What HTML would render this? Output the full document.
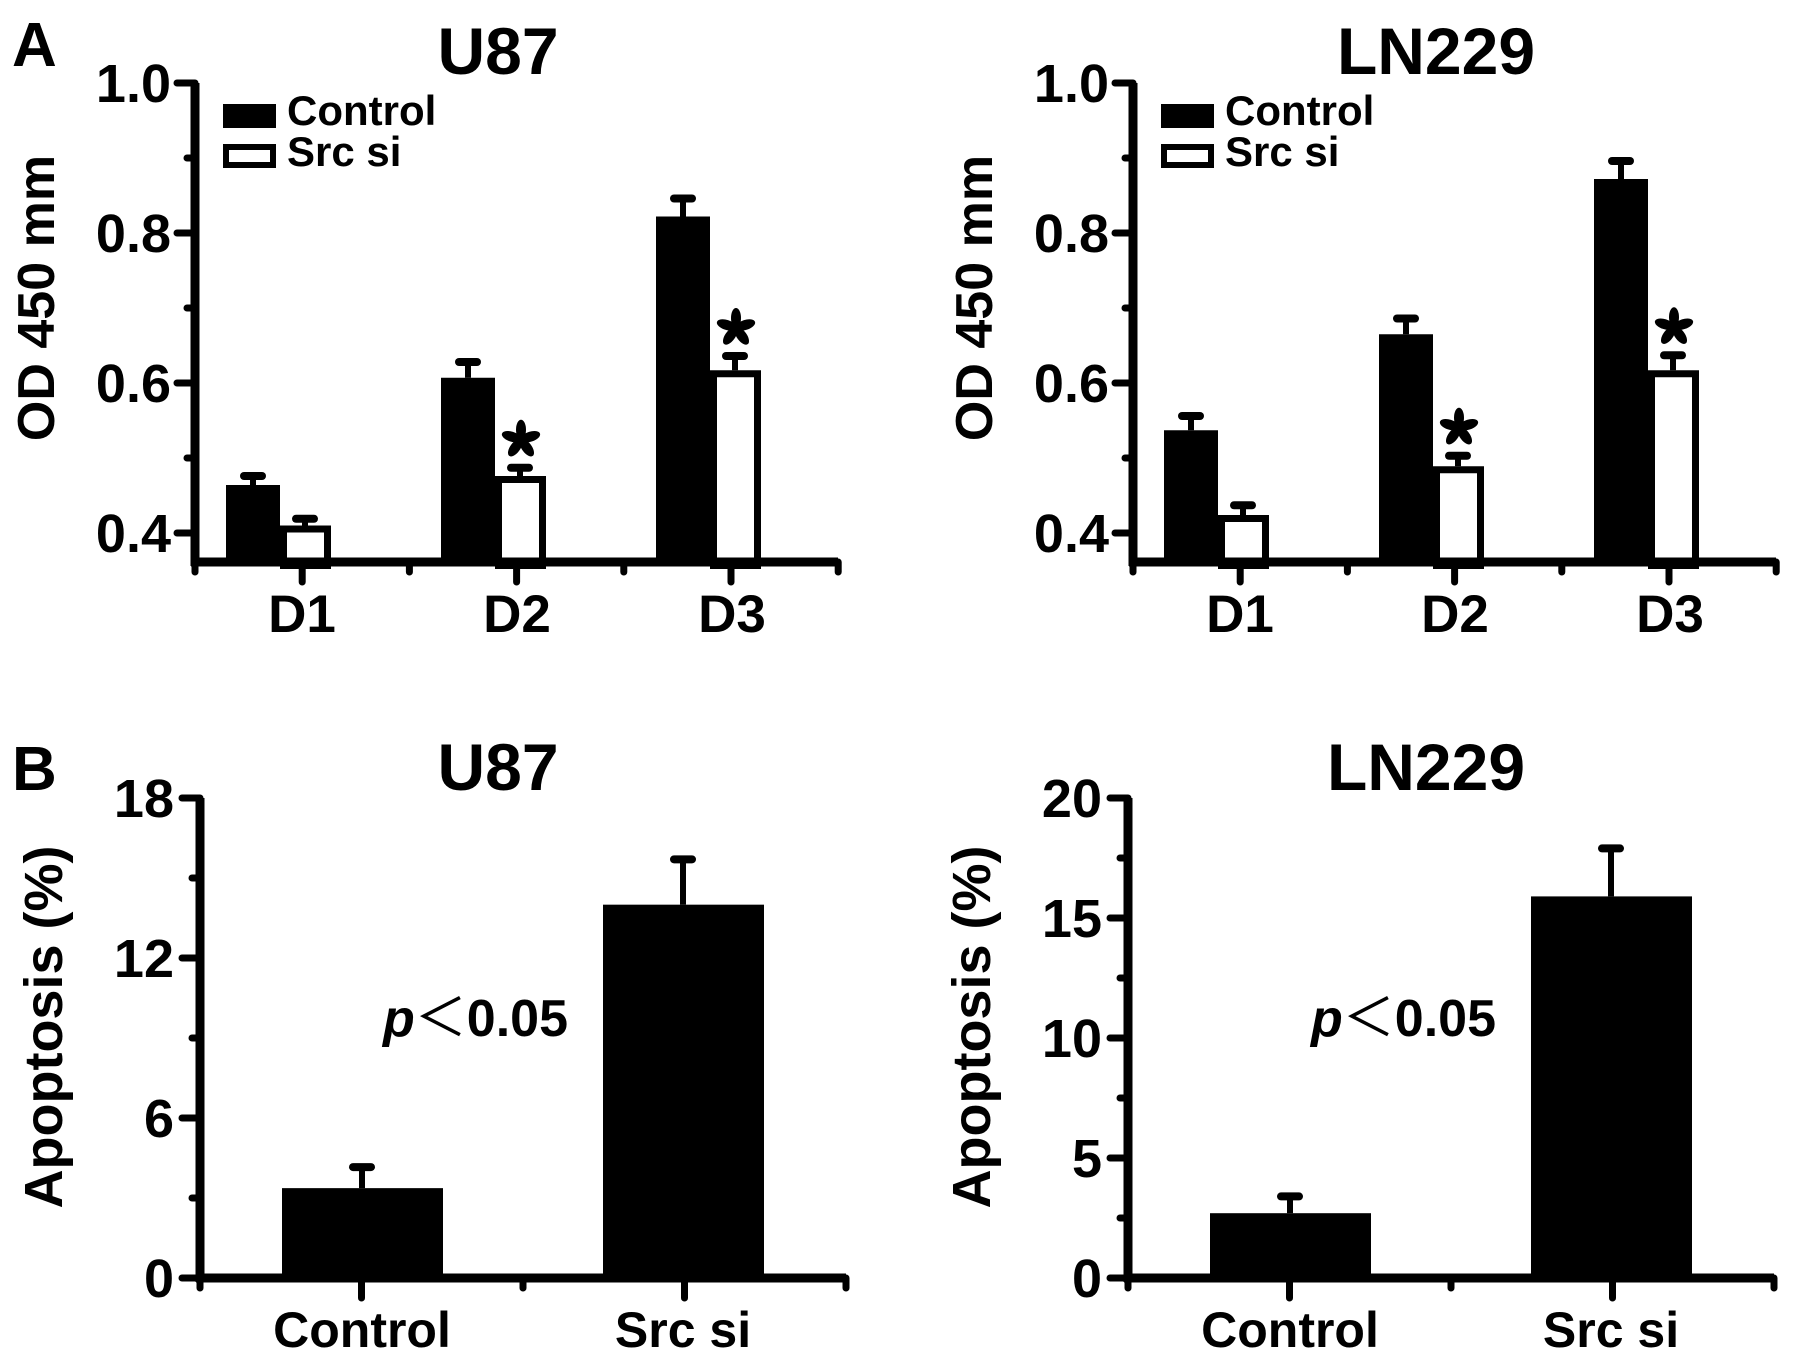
<!DOCTYPE html>
<html><head><meta charset="utf-8"><style>
html,body{margin:0;padding:0;background:#fff;}
svg{display:block;font-family:"Liberation Sans",Arial,sans-serif;font-weight:bold;}
</style></head><body>
<svg id="fig" width="1795" height="1362" viewBox="0 0 1795 1362" xmlns="http://www.w3.org/2000/svg">
<text x="12" y="66" font-size="62">A</text>
<text x="12" y="790" font-size="62">B</text>
</svg>
<script>
// ---- Panel A data ----
const daysA = ["D1","D2","D3"];
const u87Control = [0.464, 0.607, 0.822];
const u87ControlErr = [0.476, 0.628, 0.846];
const u87Src = [0.410, 0.476, 0.617];
const u87SrcErr = [0.419, 0.487, 0.636];
const ln229Control = [0.537, 0.665, 0.872];
const ln229ControlErr = [0.556, 0.686, 0.896];
const ln229Src = [0.424, 0.489, 0.617];
const ln229SrcErr = [0.437, 0.503, 0.637];
const starsA = [false, true, true];
const ticksA = [0.4, 0.6, 0.8, 1.0];
const tickLabelsA = ["0.4","0.6","0.8","1.0"];
// ---- Panel B data ----
const groupsB = ["Control","Src si"];
const u87Apop = [3.37, 14.0];
const u87ApopErr = [4.16, 15.7];
const ln229Apop = [2.7, 15.9];
const ln229ApopErr = [3.4, 17.9];
const ticksBu87 = [0, 6, 12, 18];
const ticksBln = [0, 5, 10, 15, 20];

const NS = "http://www.w3.org/2000/svg";
const svg = document.getElementById('fig');
function el(tag, attrs, parent){
  const e = document.createElementNS(NS, tag);
  for (const k in attrs) e.setAttribute(k, attrs[k]);
  (parent||svg).appendChild(e);
  return e;
}
function txt(x,y,s,size,anchor,parent){
  const t = el('text',{x:x,y:y,'font-size':size,'text-anchor':anchor||'middle'},parent);
  t.textContent = s;
  return t;
}
function errBar(g,x,yTop,yBar){
  const l = el('line',{x1:x,x2:x,y1:yTop,y2:yBar,stroke:'#000','stroke-width':6},g);
  
  
  const c = el('line',{x1:x-9,x2:x+9,y1:yTop,y2:yTop,stroke:'#000','stroke-width':8,'stroke-linecap':'round'},g);
  
  
}
function star(g,cx,cy){
  const s = el('g',{transform:`translate(${cx},${cy})`},g);
  
  
  for(let i=0;i<5;i++){
    el('ellipse',{cx:0,cy:-10,rx:5,ry:10,fill:'#000',transform:`rotate(${i*72})`},s);
  }
  el('circle',{cx:0,cy:0,r:3,fill:'#000'},s);
}

function panelA(ox, title, ctrl, ctrlErr, src, srcErr, name){
  const g = el('g',{});
  
  
  const axX = 195+ox, axY = 562, xEnd = 838+ox;
  const y = v => 83 + (1 - v) * 750;
  const cx = i => 302 + ox + i * 215;
  const t = txt(498+ox, 74, title, 66, 'middle', g);
  
  
  daysA.forEach((d,i)=>{
    const c = cx(i);
    const b1 = el('rect',{x:c-76,y:y(ctrl[i]),width:54,height:axY-y(ctrl[i]),fill:'#000'},g);
    
    
    errBar(g,c-49,y(ctrlErr[i]),y(ctrl[i]));
    const top = y(src[i]);
    const b2 = el('rect',{x:c-22+3.5,y:top+3.5,width:51-7,height:axY-top,fill:'#fff',stroke:'#000','stroke-width':7},g);
    
    
    errBar(g,c+3,y(srcErr[i]),top);
    if(starsA[i]) star(g,c+4,y(srcErr[i])-28);
    const l = txt(c,632,d,53,'middle',g);
    
    
  });
  const ya = el('line',{x1:axX,x2:axX,y1:y(1.0),y2:axY+4,stroke:'#000','stroke-width':9},g);
  
  
  const xa = el('line',{x1:axX-4,x2:xEnd,y1:axY,y2:axY,stroke:'#000','stroke-width':9},g);
  
  
  for(let k=0;k<=6;k++){
    const tx = axX + k*107.2;
    el('line',{x1:tx,x2:tx,y1:axY,y2:axY+(k%2?20:10),stroke:'#000','stroke-width':7,'stroke-linecap':'round'},g);
  }
  for(let v=0.4; v<=1.001; v+=0.1){
    const major = Math.abs((v*10)%2) < 0.01 || Math.abs((v*10)%2-2)<0.01;
    el('line',{x1:axX-(major?18:8),x2:axX,y1:y(v),y2:y(v),stroke:'#000','stroke-width':7,'stroke-linecap':'round'},g);
  }
  ticksA.forEach((v,i)=>{
    const l = txt(axX-24, y(v)+19, tickLabelsA[i], 54, 'end', g);
    
    
  });
  const yl = txt(0,0,'OD 450 mm',52,'middle',g);
  yl.setAttribute('transform',`translate(${54+ox},298) rotate(-90)`);
  
  
  const lg = el('g',{},g);
  
  
  el('rect',{x:223+ox,y:104,width:53,height:24,fill:'#000'},lg);
  el('rect',{x:226+ox,y:147,width:47,height:18,fill:'#fff',stroke:'#000','stroke-width':6},lg);
  const l1 = txt(287+ox,125,'Control',42,'start',lg);
  
  
  const l2 = txt(287+ox,166,'Src si',42,'start',lg);
  
  
}

function panelB(ox, title, vals, errs, ticks, maxV, name){
  const g = el('g',{});
  
  
  const axX = 200+ox, axY = 1278, xEnd = 846+ox;
  const y = v => axY - v * (480/maxV);
  const cx = i => 362 + ox + i * 321;
  const t = txt(498+ox, 790, title, 66, 'middle', g);
  
  
  groupsB.forEach((gname,i)=>{
    const c = cx(i);
    const b = el('rect',{x:c-80,y:y(vals[i]),width:161,height:axY-y(vals[i]),fill:'#000'},g);
    
    
    errBar(g,c,y(errs[i]),y(vals[i]));
    const l = txt(c,1347,gname,50,'middle',g);
    
    
  });
  const ya = el('line',{x1:axX,x2:axX,y1:y(maxV),y2:axY+4,stroke:'#000','stroke-width':9},g);
  
  
  const xa = el('line',{x1:axX-4,x2:xEnd,y1:axY,y2:axY,stroke:'#000','stroke-width':9},g);
  
  
  for(let k=0;k<=4;k++){
    const tx = axX + k*161.5;
    el('line',{x1:tx,x2:tx,y1:axY,y2:axY+(k%2?20:10),stroke:'#000','stroke-width':7,'stroke-linecap':'round'},g);
  }
  const step = ticks[1]-ticks[0];
  for(let v=0; v<=maxV+0.001; v+=step/2){
    const major = Math.abs((v/step)-Math.round(v/step))<0.01;
    el('line',{x1:axX-(major?18:8),x2:axX,y1:y(v),y2:y(v),stroke:'#000','stroke-width':7,'stroke-linecap':'round'},g);
  }
  ticks.forEach(v=>{
    const l = txt(axX-26, y(v)+19, String(v), 54, 'end', g);
    
    
  });
  const yl = txt(0,0,'Apoptosis (%)',54,'middle',g);
  yl.setAttribute('transform',`translate(${62+ox},1027) rotate(-90)`);
  
  
  const p = el('text',{x:383+ox,y:1036,'font-size':52},g);
  
  
  const pi = el('tspan',{'font-style':'italic'},p); pi.textContent='p';
  const pl = el('tspan',{'font-weight':'normal','font-family':'"Noto Sans CJK SC",sans-serif'},p); pl.textContent='＜';
  const pr = el('tspan',{},p); pr.textContent='0.05';
}

panelA(0,'U87',u87Control,u87ControlErr,u87Src,u87SrcErr,'chart-a-u87');
panelA(938,'LN229',ln229Control,ln229ControlErr,ln229Src,ln229SrcErr,'chart-a-ln229');
panelB(0,'U87',u87Apop,u87ApopErr,ticksBu87,18,'chart-b-u87');
panelB(928,'LN229',ln229Apop,ln229ApopErr,ticksBln,20,'chart-b-ln229');
</script>
</body></html>
